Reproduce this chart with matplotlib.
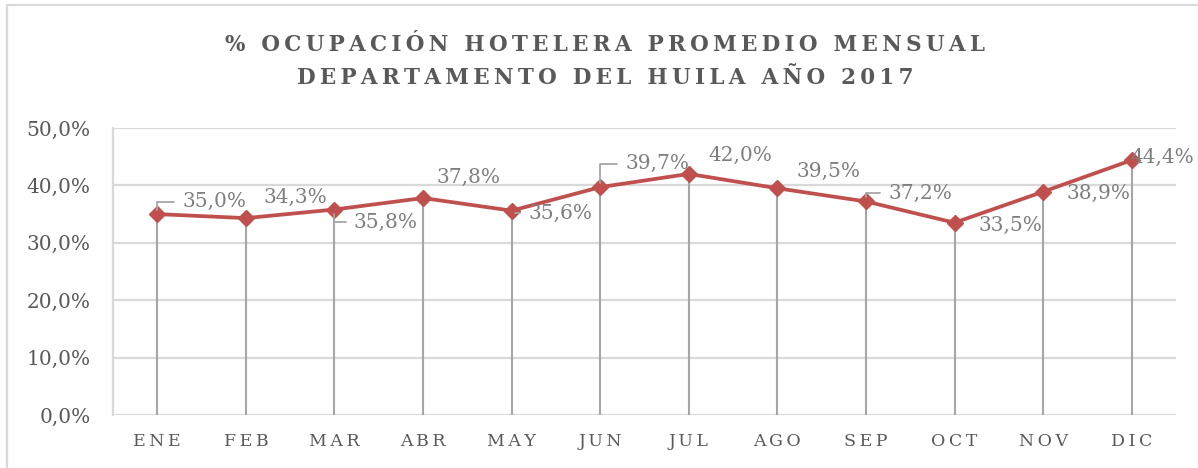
import matplotlib.pyplot as plt
from matplotlib.patches import Rectangle
from matplotlib.ticker import FuncFormatter

meses = ["ENE", "FEB", "MAR", "ABR", "MAY", "JUN", "JUL", "AGO", "SEP", "OCT", "NOV", "DIC"]
ocupacion = [35.0, 34.3, 35.8, 37.8, 35.6, 39.7, 42.0, 39.5, 37.2, 33.5, 38.9, 44.4]

# label offsets (points) and whether a leader line is drawn
offsets = [(18, 9), (13, 15), (14, -9), (10, 15), (12, -2), (18, 17),
           (14, 13), (14, 12), (16, 6), (17, -2), (17, -1), (-1, 2)]
leaders = [True, False, True, False, True, True, False, False, True, False, False, False]

plt.rcParams["font.family"] = ["DejaVu Serif"]
TS = "\u2009"

red = "#C0504D"
grid = "#D9D9D9"
txt = "#595959"
lbl = "#7F7F7F"

fig = plt.figure(figsize=(11.98, 4.68), dpi=100)
W, H = 1198, 468
fig.patches.append(Rectangle((7 / W, -0.1), 1.2, 1 - 5 / H + 0.1, transform=fig.transFigure,
                             fill=False, edgecolor=grid, lw=1.6))

ax = fig.add_axes([113 / W, 53 / H, (1176 - 113) / W, (415 - 128) / H])
x = list(range(len(meses)))

ax.vlines(x, 0, ocupacion, color="#A6A6A6", lw=1.5, zorder=2)
ax.plot(x, ocupacion, color=red, lw=2.7, marker="D", markersize=8.5, zorder=3)

ax.set_xlim(-0.5, len(meses) - 0.5)
ax.set_ylim(0, 50)
ax.set_yticks(range(0, 51, 10))
ax.yaxis.set_major_formatter(FuncFormatter(lambda v, p: f"{v:.1f}%".replace(".", ",")))
ax.grid(axis="y", color=grid, lw=1.6, zorder=0)
ax.set_axisbelow(True)
for s in ["top", "right", "bottom"]:
    ax.spines[s].set_visible(False)
ax.spines["left"].set_color(grid)
ax.spines["left"].set_linewidth(1.6)

ax.set_xticks(x)
ax.set_xticklabels([TS.join(m) for m in meses], fontsize=12.5, color=txt)
ax.tick_params(axis="x", length=0, pad=13)
ax.tick_params(axis="y", length=0, pad=16, labelsize=14.5, labelcolor=txt)

for i, v in enumerate(ocupacion):
    s = f"{v:.1f}%".replace(".", ",")
    dx, dy = offsets[i]
    ap = None
    if leaders[i]:
        ap = dict(arrowstyle="-", color="#A6A6A6", lw=1.3, relpos=(0, 0.5),
                  connectionstyle="angle,angleA=0,angleB=90,rad=0", shrinkA=4, shrinkB=3)
    ax.annotate(s, (i, v), xytext=(dx, dy), textcoords="offset points",
                ha="left", va="center", fontsize=14.5, color=lbl, arrowprops=ap, zorder=4)

t1 = "% OCUPACIÓN HOTELERA PROMEDIO MENSUAL"
t2 = "DEPARTAMENTO DEL HUILA AÑO 2017"
fig.text(605 / W, 1 - 45 / H, TS.join(t1), ha="center", va="center", fontsize=15.5,
         fontweight="bold", color=txt)
fig.text(605 / W, 1 - 78 / H, TS.join(t2), ha="center", va="center", fontsize=15.5,
         fontweight="bold", color=txt)

fig.savefig("out.png", dpi=100)
